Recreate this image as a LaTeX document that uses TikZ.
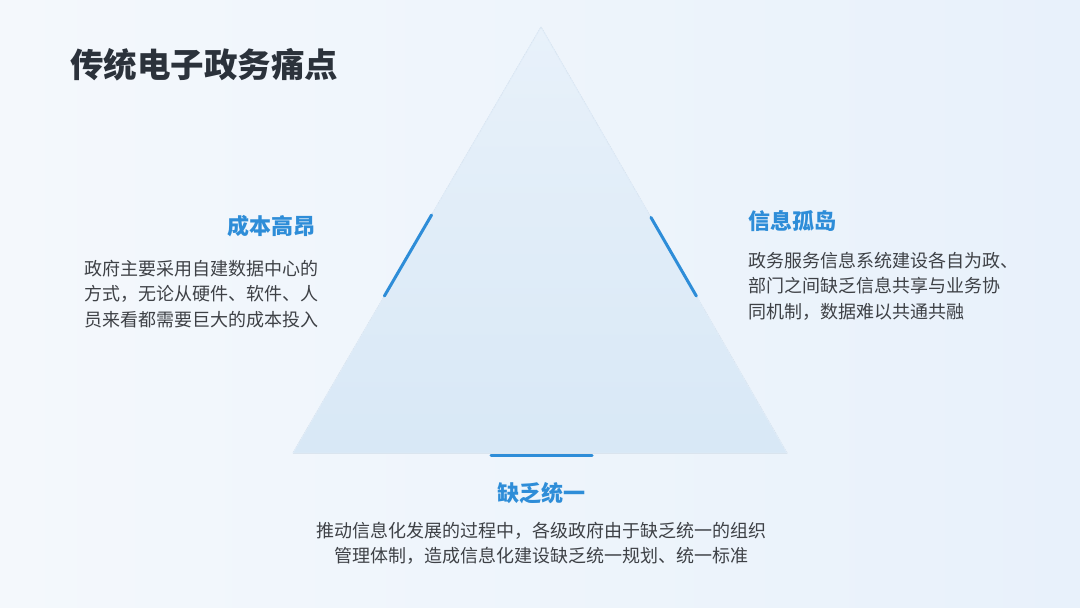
\documentclass[tikz,border=0pt]{standalone}
\usepackage{fontspec}
\setmainfont{Noto Sans CJK SC}
\usetikzlibrary{calc}
\definecolor{bgL}{HTML}{F4F8FC}
\definecolor{bgR}{HTML}{E8F1FB}
\definecolor{triT}{HTML}{E8F1FA}
\definecolor{triB}{HTML}{D8E8F6}
\definecolor{triEdge}{HTML}{E0ECF8}
\definecolor{accent}{HTML}{2E8DD8}
\definecolor{titlec}{HTML}{2B323B}
\definecolor{bodyc}{HTML}{3E4146}
\tikzset{
  titletext/.style={inner sep=0pt, text=titlec, font=\fontsize{33.5}{38}\selectfont\bfseries},
  headtext/.style={inner sep=0pt, text=accent, font=\fontsize{22}{26}\selectfont\bfseries},
  bodytext/.style={inner sep=0pt, text=bodyc, font=\fontsize{18}{25.3}\selectfont},
  accentline/.style={draw=accent, line width=3pt, line cap=round},
}
\begin{document}
\begin{tikzpicture}[x=1pt,y=-1pt]
\fill[left color=bgL,right color=bgR] (0,0) rectangle (1080,608);
\useasboundingbox (0,0) rectangle (1080,608);
% triangle
\coordinate (apex) at (541,27);
\coordinate (bl) at (293,453);
\coordinate (br) at (787,453);
\fill[top color=triT,bottom color=triB] (apex) -- (br) -- (bl) -- cycle;
\draw[triEdge, line width=1pt, line join=round] (apex) -- (br) -- (bl) -- cycle;
% accent segments
\coordinate (l1) at ($(bl)!0.3685!(apex)$);
\coordinate (l2) at ($(bl)!0.5587!(apex)$);
\coordinate (r1) at ($(br)!0.3685!(apex)$);
\coordinate (r2) at ($(br)!0.553!(apex)$);
\coordinate (b1) at ($(bl)!0.4008!(br)+(0,2)$);
\coordinate (b2) at ($(bl)!0.6053!(br)+(0,2)$);
\draw[accentline] (l1) -- (l2);
\draw[accentline] (r1) -- (r2);
\draw[accentline] (b1) -- (b2);
% title
\node[titletext, anchor=west] (title) at (70,65) {传统电子政务痛点};
% left
\node[headtext, anchor=east] (h1) at (316,226) {成本高昂};
\node[bodytext, anchor=north west, align=left] (p1) at (84,260) {政府主要采用自建数据中心的\\方式，无论从硬件、软件、人\\员来看都需要巨大的成本投入};
% right
\node[headtext, anchor=west] (h2) at (748,221) {信息孤岛};
\node[bodytext, anchor=north west, align=left] (p2) at (748,252) {政务服务信息系统建设各自为政、\\部门之间缺乏信息共享与业务协\\同机制，数据难以共通共融};
% bottom
\node[headtext, anchor=center] (h3) at (541,493) {缺乏统一};
\node[bodytext, anchor=north, align=center] (p3) at (541,522) {推动信息化发展的过程中，各级政府由于缺乏统一的组织\\管理体制，造成信息化建设缺乏统一规划、统一标准};
\end{tikzpicture}
\end{document}
